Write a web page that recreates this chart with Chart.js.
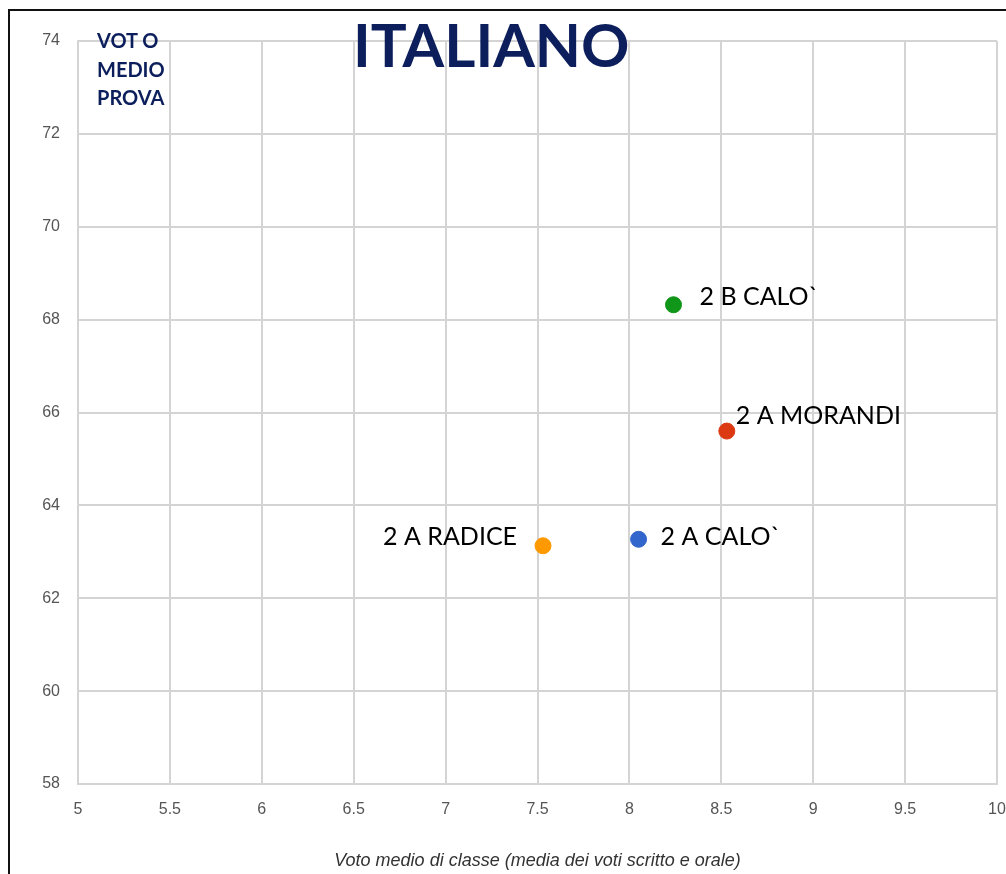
<!DOCTYPE html>
<html>
<head>
<meta charset="utf-8">
<script src="https://cdn.jsdelivr.net/npm/chart.js@4.4.1/dist/chart.umd.min.js"></script>
<style>
  html, body { margin: 0; padding: 0; background: #fff; overflow: hidden; }
  #wrap { position: relative; width: 1006px; height: 874px; }
  #frame {
    position: absolute; left: 8px; top: 9px; width: 1010px; height: 880px;
    border-left: 2px solid #111; border-top: 2px solid #111;
  }
  canvas { position: absolute; left: 0; top: 0; }
  .title {
    position: absolute; left: 353px; top: 8px;
    font-family: Lato, "Open Sans", sans-serif; font-weight: 700;
    font-size: 60px; line-height: 72px; color: #0c1f5c;
  }
  .ylab {
    position: absolute; left: 97px; top: 26px;
    font-family: Lato, "Open Sans", sans-serif; font-weight: 700;
    font-size: 20px; line-height: 28.5px; color: #0c1f5c;
  }
</style>
</head>
<body>
<div id="wrap">
  <canvas id="chart" width="1006" height="874"></canvas>
  <div id="frame"></div>
  <div class="title">ITALIANO</div>
  <div class="ylab">VOT O<br>MEDIO<br>PROVA</div>
</div>
<script>
  // classi e valori
  const classi = ['2 A CALO`', '2 B CALO`', '2 A MORANDI', '2 A RADICE'];
  const votoClasse = [8.05, 8.24, 8.53, 7.53];
  const votoProva = [63.27, 68.32, 65.6, 63.13];
  const colori = ['#3366cc', '#109618', '#dc3912', '#ff9900'];

  // tick degli assi
  const xTicks = [5, 5.5, 6, 6.5, 7, 7.5, 8, 8.5, 9, 9.5, 10];
  const yTicks = [58, 60, 62, 64, 66, 68, 70, 72, 74];

  // posizione delle etichette rispetto al punto (dx, dy, allineamento)
  const labelOffsets = [
    [22, -2, 'left'],
    [26, -8, 'left'],
    [9, -15, 'left'],
    [-26, -9, 'right']
  ];

  const pointLabels = {
    id: 'pointLabels',
    afterDatasetsDraw(chart) {
      const ctx = chart.ctx;
      const xs = chart.scales.x, ys = chart.scales.y;
      ctx.save();
      ctx.font = '25px Lato, "Open Sans", sans-serif';
      ctx.fillStyle = '#000';
      ctx.textBaseline = 'middle';
      classi.forEach(function(nome, i) {
        const px = xs.getPixelForValue(votoClasse[i]);
        const py = ys.getPixelForValue(votoProva[i]);
        const off = labelOffsets[i];
        ctx.textAlign = off[2];
        ctx.fillText(nome, px + off[0], py + off[1]);
      });
      ctx.restore();
    }
  };

  const gridColor = '#d4d4d4';
  const tickFont = { family: '"Liberation Sans", Arial, sans-serif', size: 16 };

  new Chart(document.getElementById('chart').getContext('2d'), {
    type: 'scatter',
    data: {
      datasets: [{
        label: 'Classi',
        data: votoClasse.map(function(v, i) { return { x: v, y: votoProva[i] }; }),
        pointBackgroundColor: colori,
        pointBorderColor: colori,
        pointRadius: 8,
        pointHoverRadius: 8
      }]
    },
    options: {
      responsive: false,
      animation: false,
      layout: { padding: { top: 41, right: 8, left: 0, bottom: 0 } },
      plugins: {
        legend: { display: false },
        tooltip: { enabled: false }
      },
      scales: {
        x: {
          type: 'linear',
          min: 5, max: 10,
          afterBuildTicks: function(axis) { axis.ticks = xTicks.map(function(v) { return { value: v }; }); },
          afterFit: function(axis) {
            axis.height = 90;
            axis.paddingLeft = 0;
            axis.paddingRight = 0;
          },
          grid: { color: gridColor, lineWidth: 2, drawTicks: false },
          border: { color: gridColor, width: 2 },
          ticks: {
            padding: 16, color: '#555', font: tickFont,
            callback: function(v) { return String(v); }
          },
          title: {
            display: true,
            text: 'Voto medio di classe (media dei voti scritto e orale)',
            color: '#333',
            font: { family: '"Liberation Sans", Arial, sans-serif', size: 18, style: 'italic' },
            padding: { top: 30, bottom: 2 }
          }
        },
        y: {
          type: 'linear',
          min: 58, max: 74,
          afterBuildTicks: function(axis) { axis.ticks = yTicks.map(function(v) { return { value: v }; }); },
          afterFit: function(axis) { axis.width = 78; },
          grid: { color: gridColor, lineWidth: 2, drawTicks: false },
          border: { color: gridColor, width: 2 },
          ticks: {
            padding: 18, color: '#555', font: tickFont,
            callback: function(v) { return String(v); }
          }
        }
      }
    },
    plugins: [pointLabels]
  });
</script>
</body>
</html>
